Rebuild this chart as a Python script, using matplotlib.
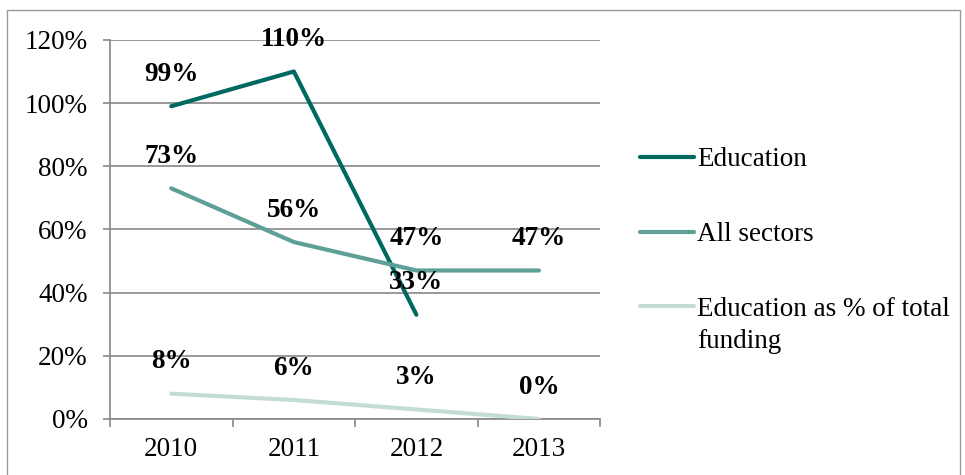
import matplotlib
matplotlib.use("Agg")
import matplotlib.pyplot as plt
from matplotlib.patches import Rectangle
from matplotlib.transforms import ScaledTranslation

# values
years = ["2010", "2011", "2012", "2013"]
education = [99, 110, 33, None]
all_sectors = [73, 56, 47, 47]
edu_share = [8, 6, 3, 0]
y_ticks = [0, 20, 40, 60, 80, 100, 120]

series = [
    ("Education", education, "#00695F"),
    ("All sectors", all_sectors, "#5E9F98"),
    ("Education as % of total\nfunding", edu_share, "#C3DCD8"),
]

plt.rcParams["font.family"] = ["Liberation Serif", "DejaVu Serif"]
FS = 19.5

fig = plt.figure(figsize=(9.65, 4.75), dpi=100)
ax = fig.add_axes([0.114, 0.118, 0.508, 0.798])

x = list(range(len(years)))
for name, vals, color in series:
    xs = [i for i, v in zip(x, vals) if v is not None]
    ys = [v for v in vals if v is not None]
    ax.plot(xs, ys, color=color, lw=3.0, solid_capstyle="round", label=name, zorder=3)
    for xi, yi in zip(xs, ys):
        ax.annotate(f"{yi}%", (xi, yi), xytext=(0, 23), textcoords="offset points",
                    ha="center", va="center", fontsize=FS, fontweight="bold", zorder=4)

ax.set_xlim(-0.5, 3.5)
ax.set_ylim(0, 120)
ax.set_yticks(y_ticks)
ax.set_yticklabels([f"{t}%" for t in y_ticks], fontsize=FS)
ax.set_xticks(x)
ax.set_xticklabels(years, fontsize=FS)
ax.set_xticks([-0.5, 0.5, 1.5, 2.5, 3.5], minor=True)
ax.tick_params(axis="x", which="major", length=0, pad=13)
ax.tick_params(axis="x", which="minor", length=6, color="#888888", width=1.2)
ax.tick_params(axis="y", length=5, color="#888888", width=1.2, pad=11)
ax.grid(axis="y", color="#888888", lw=1.2)
ax.set_axisbelow(True)
for s in ["top", "right"]:
    ax.spines[s].set_visible(False)
for s in ["left", "bottom"]:
    ax.spines[s].set_color("#888888")
    ax.spines[s].set_linewidth(1.2)

leg = ax.legend(loc="upper left", bbox_to_anchor=(0.663, 0.69), bbox_transform=fig.transFigure,
                frameon=False, fontsize=FS, handlelength=2.0, handletextpad=0.12,
                labelspacing=1.85, borderaxespad=0, borderpad=0)
for t in leg.get_texts():
    t.set_linespacing(1.35)
# align the two-line entry's handle with its first line, as in the original
h = leg.legend_handles[2]
h.set_transform(h.get_transform() + ScaledTranslation(0, 0.2, fig.dpi_scale_trans))

fig.add_artist(Rectangle((0.007, -0.01), 0.988, 0.99, transform=fig.transFigure,
                         fill=False, edgecolor="#999999", lw=1.0))

fig.savefig("out.png", dpi=100)
